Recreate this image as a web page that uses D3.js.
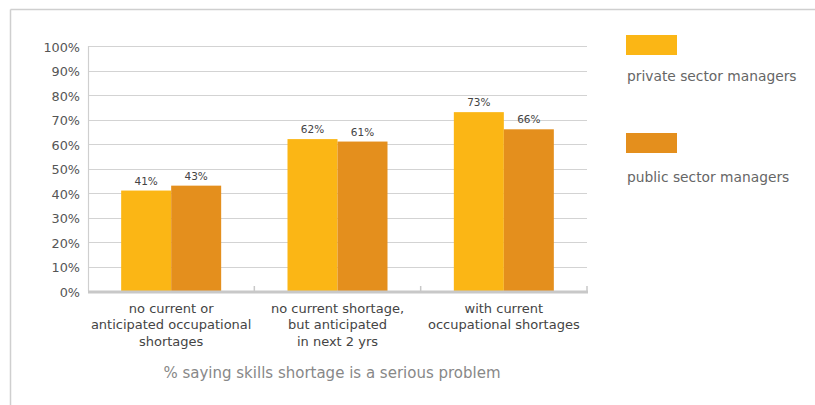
<!DOCTYPE html>
<html>
<head>
<meta charset="utf-8">
<script src="https://cdn.jsdelivr.net/npm/d3@7"></script>
<style>
  html, body { margin: 0; padding: 0; background: #fff; }
  svg { display: block; font-family: "DejaVu Sans", sans-serif; }
</style>
</head>
<body>
<svg id="chart" width="815" height="405"></svg>
<script>
// Survey categories (multi-line labels under the x axis)
const categories = [
  ["no current or", "anticipated occupational", "shortages"],
  ["no current shortage,", "but anticipated", "in next 2 yrs"],
  ["with current", "occupational shortages"]
];
const seriesNames = ["private sector managers", "public sector managers"];
const privateValues = [41, 62, 73];
const publicValues = [43, 61, 66];
const yTicks = [0, 10, 20, 30, 40, 50, 60, 70, 80, 90, 100];
const xTitle = "% saying skills shortage is a serious problem";
const colors = ["#FBB615", "#E48F1D"];

const svg = d3.select("#chart");

// outer frame: top and left rules
svg.append("line").attr("x1", 10.5).attr("x2", 815).attr("y1", 9.5).attr("y2", 9.5)
  .attr("stroke", "#cfcfcf").attr("stroke-width", 1.5);
svg.append("line").attr("x1", 10.5).attr("x2", 10.5).attr("y1", 9.5).attr("y2", 405)
  .attr("stroke", "#cfcfcf").attr("stroke-width", 1.5);

const plot = { left: 88, right: 587, top: 46, bottom: 291 };

const x0 = d3.scaleBand().domain(d3.range(categories.length))
  .range([plot.left, plot.right]).paddingInner(0).paddingOuter(0);
const x1 = d3.scaleBand().domain([0, 1]).range([0, 100]);
const y = d3.scaleLinear().domain([0, 100]).range([plot.bottom, plot.top]);

// horizontal gridlines
svg.append("g").selectAll("line").data(yTicks.filter(t => t > 0)).join("line")
  .attr("x1", plot.left).attr("x2", plot.right)
  .attr("y1", d => Math.round(y(d)) + 0.5).attr("y2", d => Math.round(y(d)) + 0.5)
  .attr("stroke", "#d3d3d3").attr("stroke-width", 1);

// left axis line
svg.append("line").attr("x1", plot.left + 0.5).attr("x2", plot.left + 0.5)
  .attr("y1", y(100)).attr("y2", plot.bottom)
  .attr("stroke", "#cfcfcf").attr("stroke-width", 1.2);

// y tick labels
const yAxis = d3.axisLeft(y).tickValues(yTicks).tickSize(0).tickPadding(8)
  .tickFormat(d => d + "%");
const gy = svg.append("g").attr("transform", `translate(${plot.left},0)`).call(yAxis);
gy.select(".domain").remove();
gy.selectAll("text").attr("font-size", 12.8).attr("fill", "#555")
  .attr("font-family", "DejaVu Sans, sans-serif").attr("dy", "0.4em");

// bars
const groups = svg.append("g").selectAll("g").data(categories.map((c, i) => i)).join("g")
  .attr("transform", i => `translate(${x0(i) + x0.bandwidth() / 2 - 50},0)`);

const values = [privateValues, publicValues];
groups.selectAll("rect").data(i => [0, 1].map(s => ({ s, v: values[s][i] }))).join("rect")
  .attr("x", d => x1(d.s)).attr("width", x1.bandwidth())
  .attr("y", d => y(d.v)).attr("height", d => plot.bottom - y(d.v))
  .attr("fill", d => colors[d.s]);

groups.selectAll("text.val").data(i => [0, 1].map(s => ({ s, v: values[s][i] }))).join("text")
  .attr("class", "val")
  .attr("x", d => x1(d.s) + x1.bandwidth() / 2)
  .attr("y", d => y(d.v) - 6)
  .attr("text-anchor", "middle").attr("font-size", 10.5).attr("fill", "#444")
  .text(d => d.v + "%");

// x axis baseline and group separators
svg.append("line").attr("x1", plot.left).attr("x2", plot.right + 1)
  .attr("y1", plot.bottom + 1).attr("y2", plot.bottom + 1)
  .attr("stroke", "#c8c8c8").attr("stroke-width", 3);
svg.append("g").selectAll("line").data([1, 2, 3]).join("line")
  .attr("x1", i => x0(i) === undefined ? plot.right : x0(i))
  .attr("x2", i => x0(i) === undefined ? plot.right : x0(i))
  .attr("y1", plot.bottom - 5).attr("y2", plot.bottom)
  .attr("stroke", "#c8c8c8").attr("stroke-width", 1.5);

// category labels
const cat = svg.append("g").selectAll("text").data(categories).join("text")
  .attr("x", (d, i) => x0(i) + x0.bandwidth() / 2)
  .attr("y", 312.5)
  .attr("text-anchor", "middle").attr("font-size", 13).attr("fill", "#444");
cat.selectAll("tspan").data(d => d).join("tspan")
  .attr("x", function () { return d3.select(this.parentNode).attr("x"); })
  .attr("dy", (d, i) => i === 0 ? 0 : 16.5)
  .text(d => d);

// x title
svg.append("text").attr("x", 332).attr("y", 378).attr("text-anchor", "middle")
  .attr("font-size", 15).attr("fill", "#888").text(xTitle);

// legend
const legend = svg.append("g").selectAll("g").data(seriesNames).join("g")
  .attr("transform", (d, i) => `translate(626,${35 + i * 98})`);
legend.append("rect").attr("width", 51).attr("height", 20).attr("fill", (d, i) => colors[i]);
legend.append("text").attr("x", 1).attr("y", (d, i) => 46 + i * 3).attr("font-size", 13.8).attr("fill", "#666")
  .text(d => d);
</script>
</body>
</html>
